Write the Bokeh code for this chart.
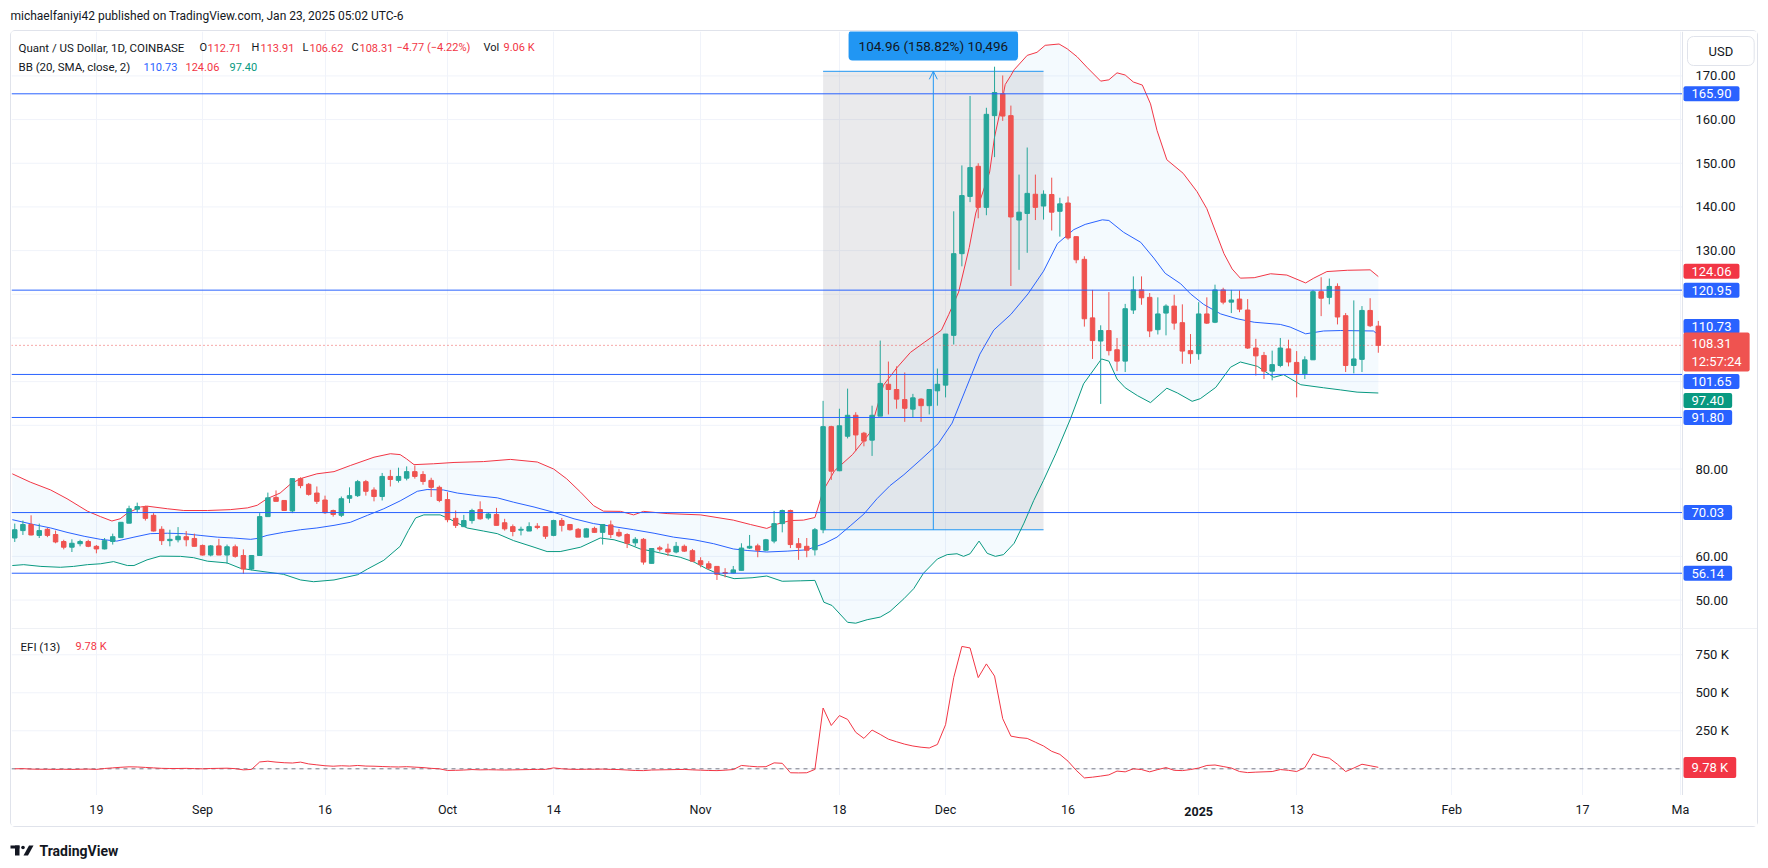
from bokeh.plotting import figure
from bokeh.models import (Range1d, LinearAxis, FixedTicker, Grid, Label,
                          Arrow, OpenHead, ColumnDataSource, PrintfTickFormatter, Span)
from bokeh.layouts import column
from bokeh.embed import file_html
from bokeh.resources import INLINE

# ----------------------------------------------------------------- data
# day index = days since 2024-08-01  (Aug 9 = 8 ... Jan 23 2025 = 175)
candle_day = list(range(8, 176))
open_ = [64.2, 65.9, 67.3, 64.8, 66.2, 65.0, 63.4, 62.1, 62.9, 63.4,
         62.3, 61.7, 63.4, 64.3, 67.6, 70.8, 71.4, 69.4, 66.2, 63.6,
         63.8, 64.5, 64.1, 62.5, 60.3, 62.4, 60.3, 62.2, 60.2, 57.1,
         60.2, 69.1, 73.5, 72.8, 70.4, 77.8, 76.5, 74.5, 72.9, 70.5,
         69.4, 73.3, 73.9, 77.1, 75.2, 73.7, 78.3, 77.4, 77.9, 79.4,
         78.75, 77.4, 75.8, 73.0, 68.7, 66.8, 68.2, 70.7, 68.8, 69.6,
         67.7, 66.8, 66.0, 65.8, 66.9, 66.8, 64.8, 68.2, 67.3, 66.2,
         64.4, 66.4, 65.5, 67.2, 65.5, 65.0, 63.1, 63.9, 58.4, 61.95,
         61.65, 61.0, 62.3, 61.3, 59.0, 58.3, 57.7, 56.3, 56.2, 56.8,
         61.9, 62.4, 61.4, 63.5, 67.5, 70.5, 62.9, 62.3, 61.5, 66.1,
         89.7, 79.6, 87.5, 92.3, 88.2, 86.6, 92.1, 99.4, 98.2, 95.9,
         93.7, 96.0, 94.5, 97.9, 99.2, 110.6, 129.3, 142.4, 149.3, 139.9,
         160.9, 165.9, 160.9, 137.0, 138.5, 142.9, 140.2, 142.85, 139.0, 140.9,
         133.2, 128.0, 114.6, 109.3, 111.7, 107.3, 104.7, 116.4, 121.0, 119.3,
         111.9, 115.7, 117.3, 113.5, 107.1, 106.4, 115.5, 113.6, 121.0, 118.2,
         118.9, 116.4, 107.7, 106.0, 102.4, 103.7, 107.5, 104.4, 101.8, 105.0,
         120.6, 119.3, 121.8, 115.1, 103.7, 105.1, 116.3, 112.71]
high = [67.5, 68.2, 69.4, 67.5, 66.5, 65.9, 63.8, 63.9, 63.8, 63.8,
        62.6, 64.2, 65.2, 67.8, 71.6, 72.3, 71.6, 69.9, 66.9, 66.1,
        66.7, 65.8, 65.2, 62.7, 62.6, 64.0, 62.7, 62.7, 61.6, 60.2,
        69.9, 74.6, 75.1, 72.8, 77.8, 78.1, 76.8, 76.0, 73.9, 70.7,
        73.7, 75.8, 77.5, 77.5, 75.8, 79.1, 79.8, 80.3, 80.6, 80.8,
        79.5, 78.0, 76.2, 74.7, 70.5, 69.5, 70.9, 72.6, 70.0, 71.1,
        68.6, 67.3, 66.8, 67.8, 67.6, 66.8, 68.4, 68.8, 67.3, 66.5,
        66.5, 66.8, 67.3, 68.2, 66.3, 65.3, 64.4, 64.2, 61.8, 62.4,
        62.9, 63.3, 62.7, 61.7, 59.8, 58.9, 57.7, 57.3, 57.8, 63.0,
        64.9, 62.9, 64.0, 70.4, 70.7, 70.7, 64.2, 64.2, 66.5, 95.6,
        89.9, 93.8, 98.4, 93.0, 88.5, 94.5, 109.4, 104.6, 103.5, 102.1,
        97.2, 96.2, 98.2, 103.0, 110.9, 139.0, 149.5, 165.4, 150.0, 162.7,
        172.1, 170.1, 163.2, 147.4, 153.6, 147.4, 143.8, 146.7, 142.1, 142.4,
        133.2, 128.7, 121.0, 112.9, 120.5, 110.0, 117.8, 124.1, 124.1, 120.3,
        119.3, 117.7, 119.9, 117.7, 110.9, 118.2, 119.3, 122.2, 121.5, 121.0,
        120.9, 118.9, 109.8, 106.8, 107.1, 110.0, 109.6, 107.0, 105.8, 121.0,
        123.9, 123.6, 122.5, 115.7, 118.6, 117.3, 119.1, 113.91]
low = [63.3, 64.9, 64.8, 64.2, 64.4, 63.0, 61.6, 61.0, 62.3, 62.1,
       60.7, 61.6, 62.7, 64.2, 67.6, 69.9, 68.2, 65.7, 62.6, 62.3,
       63.2, 62.3, 62.3, 60.2, 60.0, 60.3, 58.3, 59.7, 56.0, 56.8,
       60.2, 69.1, 72.6, 70.5, 69.9, 75.6, 73.9, 72.0, 69.7, 69.1,
       69.0, 72.2, 73.6, 73.9, 72.6, 72.8, 76.0, 76.9, 77.4, 77.8,
       76.4, 73.6, 72.4, 67.8, 66.5, 66.8, 67.5, 68.4, 68.4, 67.1,
       65.9, 64.6, 64.8, 65.8, 66.2, 64.0, 64.6, 65.7, 65.9, 64.4,
       64.4, 65.4, 62.7, 64.2, 64.4, 61.9, 62.3, 58.1, 58.4, 61.1,
       60.1, 60.7, 61.0, 58.7, 57.5, 56.9, 54.6, 55.2, 56.1, 56.8,
       61.7, 59.8, 61.2, 63.0, 65.5, 61.9, 59.2, 59.8, 60.2, 65.3,
       77.5, 79.5, 87.0, 84.1, 85.2, 83.0, 92.1, 92.5, 93.8, 90.8,
       91.7, 90.8, 92.5, 94.5, 96.4, 108.5, 126.4, 141.1, 137.4, 138.1,
       151.4, 159.7, 121.9, 125.6, 129.5, 137.0, 137.1, 134.6, 133.2, 132.5,
       127.1, 112.6, 105.2, 94.9, 106.0, 102.4, 102.2, 115.5, 117.6, 110.2,
       110.8, 110.6, 111.9, 104.1, 104.1, 105.0, 113.2, 113.4, 117.7, 115.7,
       115.9, 107.5, 101.4, 100.6, 100.3, 103.3, 103.5, 96.4, 100.6, 105.0,
       115.0, 117.7, 113.1, 102.2, 101.9, 102.2, 112.5, 106.62]
close = [66.1, 67.3, 64.9, 65.9, 64.8, 63.3, 62.1, 63.0, 63.4, 62.3,
         61.7, 63.6, 64.5, 67.8, 70.9, 71.4, 68.7, 65.8, 63.6, 63.9,
         64.6, 63.8, 62.3, 60.3, 62.4, 60.3, 62.2, 60.0, 57.1, 60.2,
         69.1, 73.4, 72.6, 70.5, 77.8, 76.2, 74.2, 72.6, 70.0, 69.6,
         73.2, 73.9, 77.1, 74.9, 73.7, 78.3, 77.6, 78.3, 79.4, 78.3,
         77.15, 75.8, 72.8, 68.4, 67.1, 68.2, 70.5, 68.6, 69.7, 67.1,
         66.3, 65.7, 66.2, 66.8, 66.6, 64.6, 68.2, 67.1, 66.1, 64.4,
         66.3, 65.5, 67.3, 65.0, 64.7, 63.0, 63.9, 58.7, 61.8, 61.65,
         61.0, 62.3, 61.2, 58.9, 58.1, 57.3, 55.9, 56.1, 56.9, 61.9,
         62.3, 61.4, 63.8, 67.5, 70.5, 62.7, 62.0, 61.4, 66.1, 89.7,
         79.5, 89.9, 92.3, 87.8, 86.4, 92.3, 99.6, 98.2, 96.0, 93.9,
         96.3, 94.5, 98.2, 99.4, 110.9, 129.3, 142.6, 149.0, 139.9, 161.2,
         166.2, 160.8, 137.7, 138.8, 143.1, 139.9, 142.9, 138.8, 140.7, 132.9,
         127.9, 114.4, 109.4, 111.7, 107.1, 104.7, 116.7, 121.0, 119.2, 111.6,
         115.5, 117.3, 113.4, 107.0, 106.4, 115.5, 113.4, 121.0, 118.2, 118.7,
         116.6, 107.7, 105.9, 102.4, 103.9, 107.7, 104.5, 101.8, 105.0, 120.6,
         119.1, 121.8, 114.8, 103.7, 105.2, 116.3, 112.8, 108.31]

# Bollinger bands (20, 2): (day, value)
bb_upper = [(7.7, 78.9), (9.9, 77.0), (12.4, 75.2), (14.4, 73.2), (16.9, 70.35), (18.5, 69.1),
            (19.9, 68.1), (20.9, 68.6), (21.8, 69.9), (23.4, 71.3), (24.2, 71.5), (26.7, 70.9),
            (28.7, 70.5), (31.6, 70.5), (34.4, 70.7), (36.5, 71.1), (37.7, 71.7), (38.9, 73.2),
            (40.5, 74.5), (41.8, 76.6), (43, 77.8), (45, 78.9), (47.1, 79.4), (49.1, 80.8),
            (52, 82.7), (54, 83.5), (55.2, 83.3), (56, 82.3), (56.9, 81.0), (59.3, 81.2),
            (61.8, 81.5), (65.4, 81.7), (68.7, 82.2), (72, 81.6), (74, 80.0), (75.6, 77.75),
            (77.3, 74.7), (78.9, 71.6), (80.1, 70.35), (82.2, 70.3), (83.8, 69.5), (85, 70.3),
            (87.9, 69.8), (92, 69.5), (96, 68.3), (98.1, 67.3), (100.1, 66.4), (101.4, 67.4),
            (103, 68.2), (104.6, 68.3), (106, 68.9), (107, 75.0), (108.4, 79.6), (110.6, 83.3),
            (112.7, 88.2), (114.4, 99.2), (116, 103.1), (117.7, 106.7), (119.4, 109.0),
            (121.5, 111.8), (122.4, 115.4), (123.6, 120.5), (124.9, 130.7), (125.7, 138.6),
            (127.4, 148.0), (128.0, 156.0), (128.7, 162.0), (129.3, 168.0), (130.0, 170.1),
            (130.4, 171.4), (132, 174.7), (133.2, 175.4), (134.2, 177.0), (135.9, 177.3),
            (136.9, 176.2), (138.1, 174.4), (139.3, 172.0), (141, 168.8), (142, 169.1),
            (143, 170.7), (144, 170.2), (145, 168.6), (146.1, 167.9), (147.1, 163.6),
            (147.9, 157.5), (149.1, 150.8), (151.1, 147.7), (152.8, 143.5), (154, 139.6),
            (155.1, 134.2), (156.1, 129.3), (157.1, 125.8), (158.1, 123.7), (159.8, 123.8),
            (161.8, 124.7), (163.8, 124.4), (166.1, 122.6), (167.1, 123.7), (168.7, 125.2),
            (171.2, 125.5), (174, 125.6), (175, 124.06)]
bb_basis = [(7.7, 68.4), (10.3, 67.3), (12.4, 66.5), (14.4, 65.5), (16.5, 64.6), (18.5, 63.9),
            (20.5, 63.5), (22.6, 64.4), (24.6, 65.2), (26.7, 65.3), (28.7, 65.2), (30.7, 64.8),
            (32.8, 64.4), (34.8, 64.2), (36.9, 63.9), (37.7, 64.1), (38.9, 64.8), (40.9, 65.5),
            (43, 66.1), (45, 66.5), (47.1, 67.1), (49.1, 67.8), (51.2, 69.4), (53.2, 70.9),
            (55.2, 72.7), (57.3, 74.9), (58.5, 75.3), (60.5, 75.2), (62.2, 74.5), (64.6, 73.9),
            (67.1, 73.4), (69.1, 72.4), (71.6, 71.3), (74, 70.1), (76.5, 68.6), (78.9, 67.5),
            (81.4, 66.8), (83.8, 66.1), (86.3, 65.3), (88.7, 64.4), (91.2, 63.8), (93.6, 62.9),
            (96, 61.7), (97.7, 61.35), (100.1, 61.0), (102.6, 61.2), (105, 61.5), (107.1, 62.9),
            (108.7, 64.4), (110.4, 67.1), (112, 69.7), (113.6, 73.2), (115.2, 76.2),
            (116.9, 78.7), (119, 82.2), (121.1, 85.8), (122.8, 90.5), (124.5, 98.4),
            (126.2, 106.3), (127.9, 111.8), (130, 115.4), (132.1, 120.1), (134, 125.3),
            (135.7, 131.6), (137.7, 134.8), (139.1, 136.0), (141.2, 137.05), (142, 136.9),
            (143.8, 134.2), (145.9, 131.9), (147.5, 128.3), (148.9, 124.8), (150.8, 122.4),
            (152, 120.1), (153.6, 117.7), (155.7, 115.5), (157.7, 114.4), (159.8, 113.6),
            (163, 113.1), (164.2, 112.5), (166.1, 110.95), (168.3, 111.6), (170.4, 111.7),
            (174.4, 111.6), (175, 110.73)]
bb_lower = [(7.7, 57.9), (9.1, 58.1), (11.2, 57.7), (13.6, 57.5), (15.2, 57.7), (16.9, 58.1),
            (18.5, 58.3), (20.1, 58.8), (21.8, 57.9), (22.6, 57.9), (24.2, 59.2), (25.8, 60.05),
            (28.3, 60.0), (29.9, 59.7), (31.6, 58.9), (34, 58.5), (35.6, 57.3), (37.3, 56.8),
            (38.9, 56.4), (40.9, 55.9), (43, 54.6), (44.6, 54.2), (47.1, 54.6), (50, 55.8),
            (51.2, 57.1), (53.2, 59.1), (55.2, 62.3), (56.2, 65.9), (57.1, 68.8), (58.1, 69.5),
            (60.1, 69.5), (61.2, 68.6), (63.4, 66.5), (65.4, 65.8), (67.1, 65.2), (69.1, 63.6),
            (71.6, 62.1), (73.2, 61.1), (74.8, 61.1), (77.3, 62.1), (79.7, 64.2), (81.4, 63.8),
            (83, 62.9), (84.6, 61.7), (86.3, 61.1), (87.9, 60.4), (89.5, 59.8), (91.2, 58.7),
            (92.8, 57.1), (94.4, 55.8), (96.1, 54.9), (98.3, 55.1), (100.1, 55.5), (102, 54.3),
            (104.2, 54.4), (106, 54.5), (107.1, 49.5), (108.1, 48.75), (110, 44.9), (111, 44.7),
            (112.4, 45.5), (114, 46.1), (115.2, 47.4), (116.9, 50.3), (118.1, 52.6),
            (119.3, 56.15), (121, 59.4), (122.2, 60.4), (123.4, 60.6), (124.2, 60.0), (125, 60.6),
            (126.1, 63.5), (127.1, 60.7), (128.1, 60.0), (129.1, 60.4), (130.4, 63.0),
            (131.6, 67.6), (132.8, 72.8), (134, 77.4), (135.5, 83.5), (137.3, 91.5),
            (138.9, 99.5), (141.1, 105.2), (142, 104.7), (143, 100.6), (144, 98.6), (145.5, 96.8),
            (147.1, 95.2), (149.1, 98.5), (150.4, 97.4), (152.2, 95.5), (153.2, 96.1),
            (155.1, 98.7), (156.9, 103.3), (158.1, 104.5), (160.2, 103.5), (162.2, 101.0),
            (163.4, 101.6), (165.5, 99.3), (168.3, 98.6), (170.4, 98.1), (172.4, 97.6), (175, 97.40)]

# Elder force index (13), thousands
efi_k = [0, 1, -2, -3, -3, -4, -3, -4, -3, -2,
         -4, 2, 6, 10, 13, 12, 9, 6, 3, 2,
         2, 3, 1, 0, 2, 3, 4, 1, -7, -4,
         45, 50, 44, 40, 38, 44, 32, 26, 20, 17,
         20, 18, 22, 18, 17, 15, 13, 12, 14, 11,
         8, 3, 0, -11, -10, -8, -5, -7, -6, -7,
         -8, -7, -6, -5, -4, -4, 6, 0, -3, -4,
         -3, -3, -2, -4, -5, -8, -11, -12, -8, -7,
         -6, -5, -4, -7, -9, -11, -12, -9, -5, 22,
         17, 13, 14, 39, 36, -26, -27, -26, -4, 400,
         285, 350, 325, 240, 200, 255, 226, 195, 178, 162,
         150, 142, 137, 160, 290, 600, 805, 795, 600, 690,
         610, 330, 215, 205, 200, 175, 150, 115, 95, 50,
         -10, -60, -55, -48, -40, -15, -20, 0, -5, -20,
         -5, 8, -10, -12, -5, 5, 22, 25, 15, 5,
         -18, -25, -22, -20, -18, -5, -10, -18, 8, 98,
         80, 70, 30, -18, 5, 30, 20, 9.78]

hline_levels = [165.90, 120.95, 101.65, 91.80, 70.03, 56.14]
bb_last = {"basis": 110.73, "upper": 124.06, "lower": 97.40}
last_close = 108.31

# price-range measurement drawing
meas_start_day, meas_end_day = 107, 134
meas_low, meas_high = 66.09, 171.05
meas_text = "104.96 (158.82%) 10,496"

price_ticks = list(range(50, 180, 10))
price_hidden = [70, 90, 100, 110, 120]
efi_ticks = [0, 250, 500, 750]
date_tick_day = [18, 31, 46, 61, 74, 92, 109, 122, 137, 153, 165, 184, 200, 212]
date_tick_label = ["19", "Sep", "16", "Oct", "14", "Nov", "18", "Dec", "16", "2025",
                   "13", "Feb", "17", "Ma"]

# ----------------------------------------------------------------- geometry (image pixels)
def day_at(px):
    return 18 + (px - 95.9) / 8.165

def price_at(py):
    return 165.90 - (py - 93.3) / 4.368

def py_of(price):
    return 93.3 + (165.90 - price) * 4.368

def efi_at(py):
    return (768.3 - py) / 0.152

FONT = "Roboto"
DARK = "#131722"
UP, DN = "#26a69a", "#ef5350"
GRID = "#f0f3fa"
BORDER = "#e0e3eb"
BLUE = "#2962ff"
RED_T = "#f23645"
FR_L, FR_R, AX_PX = 11, 1757, 1682
W_CARD = FR_R - FR_L
TOP1, BOT1 = 31, 628
TOP2, BOT2, END2 = 628, 795, 826
AX_DAY = day_at(AX_PX)
TAG_X = day_at(1683)


def lab(fig, x, y, text, color=DARK, size="12px", align="left", baseline="middle",
        bold=False, bg=None, pad=None, radius=0, border=None):
    kw = dict(x=x, y=y, text=text, text_color=color, text_font=FONT, text_font_size=size,
              text_align=align, text_baseline=baseline,
              text_font_style="bold" if bold else "normal")
    if bg is not None:
        kw["background_fill_color"] = bg
    if border is not None:
        kw["border_line_color"] = border
    if pad is not None:
        kw["padding"] = pad
    if radius:
        kw["border_radius"] = radius
    fig.add_layout(Label(**kw))


def base_fig(height, yr, vgrid=True):
    f = figure(width=W_CARD, height=height, x_range=xr, y_range=yr,
               x_axis_type=None, y_axis_type=None, toolbar_location=None,
               output_backend="svg", min_border=0)
    f.outline_line_color = None
    f.background_fill_color = "white"
    f.border_fill_color = "white"
    if vgrid:
        f.add_layout(Grid(dimension=0, ticker=FixedTicker(ticks=date_tick_day),
                          grid_line_color=GRID))
    return f


def price_axis(fig, ticks, overrides, formatter=None):
    kw = dict(ticker=FixedTicker(ticks=ticks), major_label_overrides=overrides,
              fixed_location=AX_DAY)
    if formatter is not None:
        kw["formatter"] = formatter
    ax = LinearAxis(**kw)
    ax.axis_line_color = BORDER
    ax.major_tick_line_color = None
    ax.minor_tick_line_color = None
    ax.major_label_standoff = 7
    ax.major_label_text_font = FONT
    ax.major_label_text_font_size = "13px"
    ax.major_label_text_color = DARK
    fig.add_layout(ax, "right")


def tag(fig, y, text, bg):
    lab(fig, TAG_X, y, text, color="white", size="13px", bg=bg, pad=(8, 3), radius=2)


xr = Range1d(day_at(FR_L), day_at(FR_R))

# ----------------------------------------------------------------- price pane
p = base_fig(BOT1 - TOP1, Range1d(price_at(BOT1), price_at(TOP1)))
n = len(price_ticks)
p.segment(x0=[xr.start] * n, x1=[AX_DAY] * n, y0=price_ticks, y1=price_ticks,
          line_color=GRID, line_width=1)

ux, uy = [a for a, _ in bb_upper], [b for _, b in bb_upper]
mx, my = [a for a, _ in bb_basis], [b for _, b in bb_basis]
lx, ly = [a for a, _ in bb_lower], [b for _, b in bb_lower]
p.patch(ux + lx[::-1], uy + ly[::-1], fill_color="#2196f3", fill_alpha=0.05, line_color=None)
p.quad(left=[meas_start_day], right=[meas_end_day], bottom=[meas_low], top=[meas_high],
       fill_color="#9598a1", fill_alpha=0.2, line_color=None)
p.segment(x0=[meas_start_day, meas_start_day], x1=[meas_end_day, meas_end_day],
          y0=[meas_low, meas_high], y1=[meas_low, meas_high], line_color="#2196f3", line_width=1)
mid_day = (meas_start_day + meas_end_day) / 2
p.add_layout(Arrow(end=OpenHead(size=8, line_color="#2196f3", line_width=1),
                   x_start=mid_day, y_start=meas_low, x_end=mid_day, y_end=meas_high,
                   line_color="#2196f3", line_width=1))

p.line(ux, uy, line_color="#f23645", line_width=1)
p.line(mx, my, line_color=BLUE, line_width=1)
p.line(lx, ly, line_color="#089981", line_width=1)

src = ColumnDataSource(dict(
    day=candle_day, l=low, h=high,
    top=[max(a, b) for a, b in zip(open_, close)],
    bot=[min(a, b) for a, b in zip(open_, close)],
    col=[UP if c >= o else DN for o, c in zip(open_, close)]))
p.segment(x0="day", y0="l", x1="day", y1="h", line_color="col", line_width=1, source=src)
p.vbar(x="day", width=0.55, top="top", bottom="bot", fill_color="col", line_color="col",
       line_width=1, source=src)

k = len(hline_levels)
p.segment(x0=[xr.start] * k, x1=[AX_DAY] * k, y0=hline_levels, y1=hline_levels,
          line_color=BLUE, line_width=1)
p.segment(x0=[xr.start], x1=[AX_DAY], y0=[last_close], y1=[last_close],
          line_color="#ef5350", line_width=1, line_dash="1 3")

price_axis(p, price_ticks, {t: "" for t in price_hidden}, PrintfTickFormatter(format="%.2f"))

lab(p, mid_day, price_at(45), meas_text, color=DARK, size="13.5px", align="center",
    bg="#2196f3", pad=(10, 7), radius=4)

# legend
lab(p, day_at(18), price_at(47), "Quant / US Dollar, 1D, COINBASE", size="11.5px")
for s, px, c in [("O", 199, DARK), ("112.71", 207, RED_T), ("H", 251, DARK), ("113.91", 260, RED_T),
                 ("L", 302, DARK), ("106.62", 309, RED_T), ("C", 351, DARK), ("108.31", 359, RED_T),
                 ("\u22124.77 (\u22124.22%)", 396, RED_T), ("Vol", 483, DARK), ("9.06 K", 503, RED_T)]:
    lab(p, day_at(px), price_at(47), s, color=c, size="11px")
lab(p, day_at(18), price_at(66.3), "BB (20, SMA, close, 2)", size="11.5px")
for s, px, c in [("%.2f" % bb_last["basis"], 143, BLUE), ("%.2f" % bb_last["upper"], 185, RED_T),
                 ("%.2f" % bb_last["lower"], 229, "#089981")]:
    lab(p, day_at(px), price_at(66.3), s, color=c, size="11px")

# price-scale tags
hline_shift = [0, 0, 7, 0, 0, 0]
for lv, sh in zip(hline_levels, hline_shift):
    tag(p, price_at(py_of(lv) + sh), "%.2f" % lv, BLUE)
tag(p, price_at(py_of(bb_last["upper"]) - 5.4), "%.2f" % bb_last["upper"], "#f23645")
tag(p, price_at(py_of(bb_last["basis"]) - 8.3), "%.2f" % bb_last["basis"], BLUE)
tag(p, price_at(py_of(last_close) + 6.7), "%.2f\n12:57:24" % last_close, "#ef5350")
tag(p, price_at(py_of(bb_last["lower"]) + 7.6), "%.2f" % bb_last["lower"], "#089981")
lab(p, day_at(1687), price_at(50.5), "USD", size="13px", bg="white", border=BORDER,
    pad=(21, 7), radius=6)

# ----------------------------------------------------------------- EFI pane
q = base_fig(BOT2 - TOP2, Range1d(efi_at(BOT2), efi_at(TOP2)))
m = len(efi_ticks)
q.segment(x0=[xr.start] * m, x1=[AX_DAY] * m, y0=efi_ticks, y1=efi_ticks,
          line_color=GRID, line_width=1)
q.add_layout(Span(location=efi_at(TOP2), dimension="width", line_color=BORDER, line_width=1))
q.segment(x0=[xr.start], x1=[AX_DAY], y0=[0], y1=[0], line_color="#787b86", line_width=1,
          line_dash="4 4")
q.line(candle_day, efi_k, line_color="#f23645", line_width=1)
price_axis(q, efi_ticks, {0: "", 250: "250 K", 500: "500 K", 750: "750 K"})
lab(q, day_at(20), efi_at(646), "EFI (13)", size="11.5px")
lab(q, day_at(75), efi_at(646), "%.2f K" % efi_k[-1], color=RED_T, size="11px")
tag(q, efi_at(767), "%.2f K" % efi_k[-1], "#f23645")

# ----------------------------------------------------------------- time axis strip
t = base_fig(END2 - BOT2, Range1d(0, END2 - BOT2), vgrid=False)
xa = LinearAxis(ticker=FixedTicker(ticks=date_tick_day), fixed_location=END2 - BOT2,
                major_label_overrides={d: ("" if s == "2025" else s)
                                       for d, s in zip(date_tick_day, date_tick_label)})
xa.axis_line_color = None
xa.major_tick_line_color = None
xa.minor_tick_line_color = None
xa.major_label_standoff = 0
xa.major_label_text_font = FONT
xa.major_label_text_font_size = "12.5px"
xa.major_label_text_color = DARK
t.add_layout(xa, "below")
lab(t, 153, END2 - 811, "2025", size="12.5px", align="center", bold=True)

# ----------------------------------------------------------------- header / footer
hdr = figure(width=1768, height=30, x_range=Range1d(0, 1768), y_range=Range1d(0, 30),
             x_axis_type=None, y_axis_type=None, toolbar_location=None,
             output_backend="svg", min_border=0)
hdr.outline_line_color = None
lab(hdr, 10, 30 - 15.7, "michaelfaniyi42 published on TradingView.com, Jan 23, 2025 05:02 UTC-6",
    size="12px")

ftr = figure(width=1768, height=32, x_range=Range1d(0, 1768), y_range=Range1d(0, 32),
             x_axis_type=None, y_axis_type=None, toolbar_location=None,
             output_backend="svg", min_border=0)
ftr.outline_line_color = None
ftr.quad(left=[10, 14.5], right=[19, 19], bottom=[11, 4], top=[14, 14], fill_color=DARK,
         line_color=None)
ftr.circle(x=[22.5], y=[12], radius=1.8, fill_color=DARK, line_color=None)
ftr.patch([23, 27.5, 33, 28.5], [4, 4, 14, 14], fill_color=DARK, line_color=None)
lab(ftr, 39, 9, "TradingView", size="14px", bold=True)

card = column(p, q, t, styles={"border": "1px solid " + BORDER, "border-radius": "5px",
                               "margin-left": "10px"})
root = column(hdr, card, ftr)

open("out.html", "w").write(file_html(root, INLINE))
